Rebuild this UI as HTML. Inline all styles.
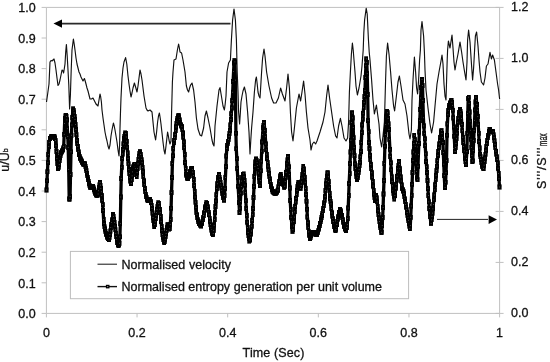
<!DOCTYPE html>
<html><head><meta charset="utf-8"><title>Normalised velocity and entropy generation</title>
<style>
html,body{margin:0;padding:0;background:#fff;}
svg{display:block;}
text{font-family:"Liberation Sans", Arial, sans-serif;font-size:12.5px;fill:#111;stroke:#111;stroke-width:0.3px;}
</style></head><body>
<svg width="550" height="362" viewBox="0 0 550 362">
<rect width="550" height="362" fill="#fff"/>
<g stroke="#c0c0c0" stroke-width="1" fill="none" shape-rendering="auto">
<path d="M46.4,7.4 H499.6 V313.4 H46.4 Z"/>
<path d="M41.6,7.40 H46.4"/><path d="M41.6,38.00 H46.4"/><path d="M41.6,68.60 H46.4"/><path d="M41.6,99.20 H46.4"/><path d="M41.6,129.80 H46.4"/><path d="M41.6,160.40 H46.4"/><path d="M41.6,191.00 H46.4"/><path d="M41.6,221.60 H46.4"/><path d="M41.6,252.20 H46.4"/><path d="M41.6,282.80 H46.4"/><path d="M41.6,313.40 H46.4"/><path d="M495.6,7.40 H503.6"/><path d="M495.6,58.40 H503.6"/><path d="M495.6,109.40 H503.6"/><path d="M495.6,160.40 H503.6"/><path d="M495.6,211.40 H503.6"/><path d="M495.6,262.40 H503.6"/><path d="M495.6,313.40 H503.6"/><path d="M46.40,313.4 V317.4"/><path d="M137.04,313.4 V317.4"/><path d="M227.68,313.4 V317.4"/><path d="M318.32,313.4 V317.4"/><path d="M408.96,313.4 V317.4"/><path d="M499.60,313.4 V317.4"/></g>
<text x="35.6" y="12.2" text-anchor="end">1.0</text><text x="35.6" y="42.8" text-anchor="end">0.9</text><text x="35.6" y="73.4" text-anchor="end">0.8</text><text x="35.6" y="104.0" text-anchor="end">0.7</text><text x="35.6" y="134.6" text-anchor="end">0.6</text><text x="35.6" y="165.2" text-anchor="end">0.5</text><text x="35.6" y="195.8" text-anchor="end">0.4</text><text x="35.6" y="226.4" text-anchor="end">0.3</text><text x="35.6" y="257.0" text-anchor="end">0.2</text><text x="35.6" y="287.6" text-anchor="end">0.1</text><text x="35.6" y="318.2" text-anchor="end">0.0</text><text x="511" y="11.4">1.2</text><text x="511" y="62.4">1.0</text><text x="511" y="113.4">0.8</text><text x="511" y="164.4">0.6</text><text x="511" y="215.4">0.4</text><text x="511" y="266.4">0.2</text><text x="511" y="317.4">0.0</text><text x="46.4" y="336.9" text-anchor="middle">0</text><text x="137.0" y="336.9" text-anchor="middle">0.2</text><text x="227.7" y="336.9" text-anchor="middle">0.4</text><text x="318.3" y="336.9" text-anchor="middle">0.6</text><text x="409.0" y="336.9" text-anchor="middle">0.8</text><text x="499.6" y="336.9" text-anchor="middle">1</text><text x="242.6" y="357.4" textLength="61.8" lengthAdjust="spacing">Time (Sec)</text>
<text transform="translate(9,160) rotate(-90)" text-anchor="middle">u/U<tspan font-size="7px" dy="-0.7">b</tspan></text>
<text transform="translate(545.5,189) rotate(-90)" textLength="41.4" lengthAdjust="spacing">S'''/S'''</text><text transform="translate(546.6,146.2) rotate(-90)" font-size="8.5px" textLength="12.8" lengthAdjust="spacingAndGlyphs">max</text>
<polyline points="46.5,102 47.5,95 49,84 50,62 51,60.5 52,61 53,60 54,59 55,63 56,70 57,78 58,85.5 59,84 60,80 61,75 62,70 63,71 63.6,73 64.4,68 65,64 65.7,52 66.4,44.5 67.2,56 68,70 68.8,85 69.6,109 70.4,95 71.2,70 72,50 73.4,39 74.2,44 75,50 76,58 77,64 78,68 79,72 80,74 81,77 82,79 83,81 84.4,78.5 85.2,81 86,84 87,88 88,91 89,95 90,99 91.5,99 93,98 94.5,101 96,104 98,106 99,100 100,94 100.7,97 101.4,102 102,110 103,118 104,125 105,132 106,137 107,141 108,146 109,149 110,145 111,136 112,130 113.4,123 114.2,126 115,130 116,136 117,142 118,150 119,156 119.6,145 120,128 120.5,112 121,98 121.5,88 122,78 123,68 124,62 125.6,57.6 126.8,64 128,76 129,84 130,91 131,97 132,93 133,88 134.4,83 135.6,87 137,92 138,86 139,78 140,70 141,74 142,80 143,88 144,96 145,102 146,108 147,110 148,111 150,110 152,112 153,122 154,132 155.6,140 156.6,132 157.6,122 158.5,116 159.4,113 160.2,118 161,124 162,133 163,142 164,150 165,154 166,146 167.6,132 168.4,136 169,140 170,144 171,141 171.6,112 172.4,82 173,72 174,60 176,59 177.4,50 178.6,44 179.4,48 180,52 181.6,53 183,60 184,66 185,72 186.4,86 187.5,90 188.6,92 189.6,88 190.6,85 192,83 193.6,90 195,102 196.4,118 198,129 200,135 201.6,136 203.6,128 205,116 206.4,111 208,118 210,128 212,140 213,144 214,146 214.6,136 215,126 216,116 217,106 218,98 219,90 220,87.6 221.4,96 223,106 224.4,110 225.2,104 226,96 227,72 228.6,63 230.4,60 231.4,40 232.6,20 234,9 235.4,20 236.4,40 237.2,72 238,92 238.6,112 239.6,124 240.4,112 241,102 242,96 243,91 244.4,87 246,94 247.6,112 249,132 250,154 250.8,140 251.6,128 253,112 254.4,92 255.6,80 256.4,77 257.2,84 258,92 259,96 260,98 261,82 261.6,72 262.6,58 264,49 265,56 266,66 266.6,72 269,86 271.6,98 273.6,103 276,103 278.4,98 280.6,88 282.4,94 285,101 286.6,88 288,74 289.4,88 290.4,112 291.6,132 293,141 294.4,128 296.4,108 299,94 300.6,101 302,92 303.6,81 305,94 306.4,112 308,128 310,140 311,150 312.4,144 314,142 315.6,144 317,141 320,132 323,122 325,112 326.6,96 328,85 329.6,98 331.6,112 333.6,126 335.6,136 337,138 338.6,126 340.4,118.4 342,126 344,138 346,141 347.6,138 348.6,122 349.4,92 350.4,72 351.4,54 352.4,43 353.2,50 354,60 355,72 356,86 357.4,95 359,88 361,76 362,66 363.2,50 363.8,33 364.6,20 366.2,8.4 367.2,14 367.6,22 368.4,39 369.2,52 370,60 371.6,80 373,100 374.4,114 376.4,105 377.6,114 379,124 380,138 381.6,147 383,136 384.4,122 385.6,80 386.4,56 387.6,43 389,54 390.6,72 392,90 393.6,106 394.6,111 396.4,96 398,82 399.4,76 401,86 403,100 405,104 407,116 409,134 410,139 411.4,130 412,100 413,80 414.4,57 415.6,72 416.6,88 417.6,94 418.6,80 419.6,60 420.4,50 421,30 422,21.6 423.6,36 424.4,52 425,70 426,90 428,108 430,124 431.6,133 433.6,122 435,106 437,84 439,72 441,61 442,55 443,64 444,84 445,96 446,100 446.6,80 447.2,60 447.6,50 448.4,41 450,48 452,35 453,48 454,62 455,70 456.4,62 458,54 460,42 461.6,52 463,62 464.6,72 466,80 467,62 467.6,40 468.6,30 470,42 471.6,66 472.6,80 473.6,68 474.6,50 475.4,36 476.6,32 478,46 479,60 480,72 481.4,82 483.6,85 485,78 486.4,66 488,64 490,52.4 491.4,59 492.6,55 494.4,60 496,72 497.6,84 498.6,90 499.6,99" fill="none" stroke="#111" stroke-width="1.15" stroke-linejoin="round"/>
<defs><marker id="sq" markerUnits="userSpaceOnUse" markerWidth="4.2" markerHeight="5.2" refX="2.1" refY="2.6" orient="0"><rect width="4.2" height="5.2" fill="#000"/><rect x="1.75" y="2.25" width="0.7" height="0.7" fill="#888"/></marker></defs>
<polyline points="46.5,190.0 47.0,180.9 47.4,171.9 47.9,162.8 48.3,154.5 48.8,146.6 49.2,142.3 49.7,138.9 50.1,138.3 50.6,137.6 51.0,137.0 51.5,136.8 51.9,136.5 52.4,136.3 52.8,136.1 53.3,136.1 53.7,136.2 54.2,136.4 54.7,137.0 55.1,138.6 55.6,140.7 56.0,145.8 56.5,151.6 56.9,158.7 57.4,163.7 57.8,168.3 58.3,168.9 58.7,167.1 59.2,164.5 59.6,160.9 60.1,157.5 60.5,155.3 61.0,153.0 61.4,152.1 61.9,151.2 62.4,150.3 62.8,149.4 63.3,148.0 63.7,146.3 64.2,134.3 64.6,123.6 65.1,118.5 65.5,115.9 66.0,115.5 66.4,116.5 66.9,119.9 67.3,128.8 67.8,136.5 68.2,147.3 68.7,169.4 69.2,199.0 69.6,199.0 70.1,196.3 70.5,174.4 71.0,151.9 71.4,135.2 71.9,125.0 72.3,117.5 72.8,111.2 73.2,108.9 73.7,110.7 74.1,112.9 74.6,116.1 75.0,119.4 75.5,124.4 75.9,129.4 76.4,134.8 76.9,140.2 77.3,143.8 77.8,146.5 78.2,149.3 78.7,152.0 79.1,154.5 79.6,156.3 80.0,158.0 80.5,158.9 80.9,159.9 81.4,160.8 81.8,161.7 82.3,162.6 82.7,163.5 83.2,164.0 83.6,164.0 84.1,164.0 84.6,164.0 85.0,164.0 85.5,166.3 85.9,168.6 86.4,170.8 86.8,173.1 87.3,175.3 87.7,177.4 88.2,179.5 88.6,181.5 89.1,183.3 89.5,185.1 90.0,187.0 90.4,187.0 90.9,187.0 91.3,187.0 91.8,186.8 92.3,186.5 92.7,186.2 93.2,186.5 93.6,188.0 94.1,189.5 94.5,191.0 95.0,192.3 95.4,193.5 95.9,194.7 96.3,195.0 96.8,195.0 97.2,195.0 97.7,195.0 98.1,194.0 98.6,190.8 99.0,187.7 99.5,185.0 100.0,182.3 100.4,185.1 100.9,188.5 101.3,191.8 101.8,195.7 102.2,200.2 102.7,204.7 103.1,210.5 103.6,219.6 104.0,223.4 104.5,226.9 104.9,229.0 105.4,231.2 105.8,233.3 106.3,234.8 106.7,236.0 107.2,237.2 107.7,238.2 108.1,238.8 108.6,239.4 109.0,239.9 109.5,237.2 109.9,234.5 110.4,231.0 110.8,227.4 111.3,224.6 111.7,222.3 112.2,219.9 112.6,217.3 113.1,214.6 113.5,216.3 114.0,219.3 114.5,222.4 114.9,226.1 115.4,229.8 115.8,233.3 116.3,236.6 116.7,239.9 117.2,242.4 117.6,243.6 118.1,244.7 118.5,245.8 119.0,244.7 119.4,243.2 119.9,236.9 120.3,223.7 120.8,197.0 121.2,178.6 121.7,167.2 122.2,158.5 122.6,154.0 123.1,149.3 123.5,143.9 124.0,138.4 124.4,136.4 124.9,134.7 125.3,133.0 125.8,133.4 126.2,137.0 126.7,141.1 127.1,147.1 127.6,153.0 128.0,158.5 128.5,163.9 128.9,169.4 129.4,173.6 129.9,177.7 130.3,181.0 130.8,183.9 131.2,183.7 131.7,179.9 132.1,175.9 132.6,171.9 133.0,167.9 133.5,166.6 133.9,165.3 134.4,164.1 134.8,166.4 135.3,168.8 135.7,171.5 136.2,174.4 136.6,176.6 137.1,172.6 137.6,168.5 138.0,163.9 138.5,159.6 138.9,156.2 139.4,153.4 139.8,151.7 140.3,152.4 140.7,154.6 141.2,157.1 141.6,159.8 142.1,162.8 142.5,167.4 143.0,171.9 143.4,176.4 143.9,180.9 144.3,184.8 144.8,188.4 145.3,191.5 145.7,194.2 146.2,196.5 146.6,197.8 147.1,199.1 147.5,200.0 148.0,200.9 148.4,200.6 148.9,200.1 149.3,199.7 149.8,199.2 150.2,199.7 150.7,201.1 151.1,202.9 151.6,205.6 152.0,208.5 152.5,213.0 153.0,217.5 153.4,220.6 153.9,223.5 154.3,226.4 154.8,224.7 155.2,221.8 155.7,218.7 156.1,215.4 156.6,212.2 157.0,209.4 157.5,206.7 157.9,204.6 158.4,202.8 158.8,203.5 159.3,206.2 159.8,209.2 160.2,212.8 160.7,216.6 161.1,221.7 161.6,226.6 162.0,230.6 162.5,234.4 162.9,237.1 163.4,239.8 163.8,241.3 164.3,242.6 164.7,241.3 165.2,239.1 165.6,236.3 166.1,233.4 166.5,230.6 167.0,227.8 167.5,224.9 167.9,224.9 168.4,226.3 168.8,227.6 169.3,229.0 169.7,228.8 170.2,224.3 170.6,219.4 171.1,208.1 171.5,192.7 172.0,177.6 172.4,163.4 172.9,155.9 173.3,148.3 173.8,142.9 174.2,140.3 174.7,137.7 175.2,134.7 175.6,130.8 176.1,126.9 176.5,123.4 177.0,120.9 177.4,118.5 177.9,117.0 178.3,115.8 178.8,115.8 179.2,117.8 179.7,120.0 180.1,122.5 180.6,124.4 181.0,125.2 181.5,126.1 181.9,126.9 182.4,129.8 182.9,133.0 183.3,137.1 183.8,142.0 184.2,147.7 184.7,154.6 185.1,162.6 185.6,168.6 186.0,174.1 186.5,175.9 186.9,177.7 187.4,178.4 187.8,178.8 188.3,178.1 188.7,176.8 189.2,175.2 189.6,173.4 190.1,171.7 190.6,170.3 191.0,169.0 191.5,168.5 191.9,168.1 192.4,169.8 192.8,172.1 193.3,175.5 193.7,179.6 194.2,185.4 194.6,191.3 195.1,197.0 195.5,202.1 196.0,207.3 196.4,212.3 196.9,214.9 197.3,217.5 197.8,219.8 198.3,221.6 198.7,223.1 199.2,223.7 199.6,224.3 200.1,224.8 200.5,225.4 201.0,226.0 201.4,224.7 201.9,223.3 202.3,221.9 202.8,219.8 203.2,217.7 203.7,215.5 204.1,212.9 204.6,210.3 205.1,207.8 205.5,206.1 206.0,204.4 206.4,202.7 206.9,203.1 207.3,205.0 207.8,206.9 208.2,209.5 208.7,212.1 209.1,214.9 209.6,218.1 210.0,221.2 210.5,224.4 210.9,227.6 211.4,230.0 211.8,232.2 212.3,233.6 212.8,234.5 213.2,233.5 213.7,230.3 214.1,225.3 214.6,219.6 215.0,212.8 215.5,206.6 215.9,201.0 216.4,194.8 216.8,188.4 217.3,183.8 217.7,180.1 218.2,177.3 218.6,175.4 219.1,174.5 219.5,177.1 220.0,179.7 220.5,182.3 220.9,185.2 221.4,188.0 221.8,190.8 222.3,193.3 222.7,195.6 223.2,197.7 223.6,199.5 224.1,200.2 224.5,195.7 225.0,188.3 225.4,177.6 225.9,166.7 226.3,156.0 226.8,148.6 227.2,145.4 227.7,143.3 228.2,141.4 228.6,139.3 229.1,136.3 229.5,133.3 230.0,130.2 230.4,125.0 230.9,119.5 231.3,113.8 231.8,107.9 232.2,100.7 232.7,92.2 233.1,81.6 233.6,71.5 234.0,63.0 234.5,60.7 234.9,61.9 235.4,80.1 235.9,133.1 236.3,148.9 236.8,158.8 237.2,168.3 237.7,177.3 238.1,186.1 238.6,194.3 239.0,202.6 239.5,212.5 239.9,208.1 240.4,201.5 240.8,193.1 241.3,186.5 241.7,181.1 242.2,177.3 242.6,175.7 243.1,174.1 243.6,174.0 244.0,176.8 244.5,180.6 244.9,185.1 245.4,192.6 245.8,200.8 246.3,208.4 246.7,215.6 247.2,222.1 247.6,227.6 248.1,232.5 248.5,235.4 249.0,238.2 249.4,241.0 249.9,240.0 250.3,237.0 250.8,234.0 251.3,231.0 251.7,226.1 252.2,220.5 252.6,214.8 253.1,208.4 253.5,197.5 254.0,186.6 254.4,176.6 254.9,166.6 255.3,162.0 255.8,159.3 256.2,159.0 256.7,160.8 257.1,162.9 257.6,165.6 258.1,168.5 258.5,173.0 259.0,177.6 259.4,181.7 259.9,185.8 260.3,180.4 260.8,170.9 261.2,161.1 261.7,151.1 262.1,142.0 262.6,134.7 263.0,127.8 263.5,125.1 263.9,122.4 264.4,125.9 264.8,130.5 265.3,136.8 265.8,144.0 266.2,149.9 266.7,154.1 267.1,158.4 267.6,162.5 268.0,166.1 268.5,169.8 268.9,173.4 269.4,176.3 269.8,179.0 270.3,181.7 270.7,184.4 271.2,186.6 271.6,188.1 272.1,189.6 272.5,191.1 273.0,191.7 273.5,192.3 273.9,192.9 274.4,193.0 274.8,193.0 275.3,193.0 275.7,193.0 276.2,193.0 276.6,192.8 277.1,191.8 277.5,190.9 278.0,190.0 278.4,186.9 278.9,183.8 279.3,181.1 279.8,178.5 280.2,176.0 280.7,174.4 281.2,176.5 281.6,178.5 282.1,180.5 282.5,182.3 283.0,183.5 283.4,184.8 283.9,186.0 284.3,187.3 284.8,186.2 285.2,181.7 285.7,177.2 286.1,172.6 286.6,168.1 287.0,163.7 287.5,160.0 287.9,156.4 288.4,161.0 288.9,166.9 289.3,174.5 289.8,188.0 290.2,200.3 290.7,209.3 291.1,217.2 291.6,221.9 292.0,226.6 292.5,231.3 292.9,229.7 293.4,226.0 293.8,221.6 294.3,217.1 294.7,211.9 295.2,206.4 295.6,202.0 296.1,198.4 296.6,194.6 297.0,190.5 297.5,186.7 297.9,184.4 298.4,182.2 298.8,183.1 299.3,184.4 299.7,185.7 300.2,187.2 300.6,188.3 301.1,185.4 301.5,182.0 302.0,178.1 302.4,174.2 302.9,170.3 303.4,166.4 303.8,169.0 304.3,172.6 304.7,177.1 305.2,182.2 305.6,188.4 306.1,194.5 306.5,201.1 307.0,209.1 307.4,217.0 307.9,222.8 308.3,227.3 308.8,231.9 309.2,235.2 309.7,237.5 310.1,238.6 310.6,237.2 311.1,235.8 311.5,234.5 312.0,233.1 312.4,232.8 312.9,232.6 313.3,232.3 313.8,232.1 314.2,232.3 314.7,232.8 315.1,233.3 315.6,233.8 316.0,234.3 316.5,234.9 316.9,234.3 317.4,233.3 317.8,232.3 318.3,230.8 318.8,229.0 319.2,227.2 319.7,225.4 320.1,223.6 320.6,221.7 321.0,219.9 321.5,217.6 321.9,215.4 322.4,213.1 322.8,210.9 323.3,208.3 323.7,205.6 324.2,202.9 324.6,200.1 325.1,196.7 325.5,190.3 326.0,184.0 326.5,180.3 326.9,176.6 327.4,173.0 327.8,172.9 328.3,176.8 328.7,181.7 329.2,187.2 329.6,193.1 330.1,198.5 330.5,201.2 331.0,203.9 331.4,208.4 331.9,212.9 332.3,216.1 332.8,218.8 333.2,221.5 333.7,224.2 334.2,226.5 334.6,227.9 335.1,229.3 335.5,230.7 336.0,229.2 336.4,226.9 336.9,224.4 337.3,221.6 337.8,219.1 338.2,216.8 338.7,214.6 339.1,212.6 339.6,210.7 340.0,209.1 340.5,210.5 340.9,211.8 341.4,213.6 341.9,215.4 342.3,217.5 342.8,219.8 343.2,222.1 343.7,224.3 344.1,226.3 344.6,227.4 345.0,228.6 345.5,229.7 345.9,230.8 346.4,229.5 346.8,227.6 347.3,224.6 347.7,218.6 348.2,208.0 348.7,195.6 349.1,183.7 349.6,173.7 350.0,163.7 350.5,152.0 350.9,140.2 351.4,122.6 351.8,113.0 352.3,113.0 352.7,117.9 353.2,127.6 353.6,137.8 354.1,147.6 354.5,155.7 355.0,163.9 355.4,168.5 355.9,173.0 356.4,176.5 356.8,179.6 357.3,179.7 357.7,177.4 358.2,175.0 358.6,172.3 359.1,169.4 359.5,165.8 360.0,162.2 360.4,156.9 360.9,151.4 361.3,142.6 361.8,132.7 362.2,124.9 362.7,119.0 363.1,113.2 363.6,107.8 364.1,102.3 364.5,96.4 365.0,90.5 365.4,77.6 365.9,65.8 366.3,58.9 366.8,62.3 367.2,73.7 367.7,94.6 368.1,120.7 368.6,131.8 369.0,142.5 369.5,148.8 369.9,155.2 370.4,159.9 370.8,164.5 371.3,168.7 371.8,172.8 372.2,177.1 372.7,181.6 373.1,186.0 373.6,190.1 374.0,194.1 374.5,197.3 374.9,200.5 375.4,199.4 375.8,197.4 376.3,195.5 376.7,197.9 377.2,201.9 377.6,206.4 378.1,210.8 378.5,214.4 379.0,218.0 379.5,221.6 379.9,225.3 380.4,227.8 380.8,230.1 381.3,232.3 381.7,232.2 382.2,225.4 382.6,217.5 383.1,207.6 383.5,194.0 384.0,180.4 384.4,163.4 384.9,146.1 385.3,134.4 385.8,124.5 386.2,117.0 386.7,111.5 387.2,111.5 387.6,112.8 388.1,118.3 388.5,123.9 389.0,129.6 389.4,139.3 389.9,149.2 390.3,156.6 390.8,162.9 391.2,169.9 391.7,176.9 392.1,181.4 392.6,185.9 393.0,190.3 393.5,193.2 394.0,196.1 394.4,199.0 394.9,195.6 395.3,192.0 395.8,188.1 396.2,184.1 396.7,180.1 397.1,176.2 397.6,172.2 398.0,168.6 398.5,165.1 398.9,161.5 399.4,164.6 399.8,168.8 400.3,173.0 400.7,177.0 401.2,181.0 401.7,185.0 402.1,188.3 402.6,189.4 403.0,190.5 403.5,191.7 403.9,193.8 404.4,196.4 404.8,199.0 405.3,201.7 405.7,204.4 406.2,207.1 406.6,209.8 407.1,212.5 407.5,215.2 408.0,218.0 408.4,220.7 408.9,223.4 409.4,226.1 409.8,228.8 410.3,225.7 410.7,217.2 411.2,206.0 411.6,195.2 412.1,184.2 412.5,172.4 413.0,160.6 413.4,152.0 413.9,143.6 414.3,135.2 414.8,139.7 415.2,146.2 415.7,153.9 416.1,163.0 416.6,171.5 417.1,178.0 417.5,179.8 418.0,166.2 418.4,154.7 418.9,143.4 419.3,132.0 419.8,120.7 420.2,109.4 420.7,98.0 421.1,87.7 421.6,79.8 422.0,79.5 422.5,85.4 422.9,100.5 423.4,117.8 423.8,125.9 424.3,133.3 424.8,138.9 425.2,145.7 425.7,153.9 426.1,161.4 426.6,166.8 427.0,172.4 427.5,180.5 427.9,188.7 428.4,195.4 428.8,201.9 429.3,208.4 429.7,213.0 430.2,216.9 430.6,220.9 431.1,223.3 431.6,219.9 432.0,216.5 432.5,213.1 432.9,208.9 433.4,204.4 433.8,199.9 434.3,195.0 434.7,189.9 435.2,184.8 435.6,179.7 436.1,175.2 436.5,170.7 437.0,166.1 437.4,160.7 437.9,155.3 438.3,151.2 438.8,147.6 439.3,144.0 439.7,140.4 440.2,137.1 440.6,134.5 441.1,131.9 441.5,130.7 442.0,133.6 442.4,137.5 442.9,142.6 443.3,152.4 443.8,164.1 444.2,175.7 444.7,184.3 445.1,187.4 445.6,182.1 446.0,172.8 446.5,160.7 447.0,135.1 447.4,123.9 447.9,114.8 448.3,110.1 448.8,107.4 449.2,105.4 449.7,104.2 450.1,103.0 450.6,101.9 451.0,101.0 451.5,100.2 451.9,102.2 452.4,105.3 452.8,110.1 453.3,117.9 453.7,126.9 454.2,136.1 454.7,145.4 455.1,151.6 455.6,147.6 456.0,143.6 456.5,138.8 456.9,133.2 457.4,127.7 457.8,122.2 458.3,118.1 458.7,114.9 459.2,112.3 459.6,110.5 460.1,109.4 460.5,111.7 461.0,114.0 461.4,118.5 461.9,124.3 462.4,130.8 462.8,137.2 463.3,142.4 463.7,146.7 464.2,150.9 464.6,154.9 465.1,158.2 465.5,161.5 466.0,164.8 466.4,158.5 466.9,151.7 467.3,133.2 467.8,113.6 468.2,98.3 468.7,97.1 469.1,103.3 469.6,112.0 470.1,121.1 470.5,130.2 471.0,139.2 471.4,147.5 471.9,155.6 472.3,161.7 472.8,161.0 473.2,150.6 473.7,140.3 474.1,130.3 474.6,120.3 475.0,110.0 475.5,102.0 475.9,97.1 476.4,100.3 476.9,104.6 477.3,110.2 477.8,116.6 478.2,124.2 478.7,133.2 479.1,141.6 479.6,148.0 480.0,154.1 480.5,156.8 480.9,159.6 481.4,162.3 481.8,165.0 482.3,166.5 482.7,167.4 483.2,168.2 483.6,168.6 484.1,165.1 484.6,161.5 485.0,158.0 485.5,154.1 485.9,150.2 486.4,146.3 486.8,143.4 487.3,140.6 487.7,137.7 488.2,135.2 488.6,133.3 489.1,131.3 489.5,129.3 490.0,129.6 490.4,130.4 490.9,131.2 491.3,131.9 491.8,131.8 492.3,131.5 492.7,131.2 493.2,132.0 493.6,134.9 494.1,137.8 494.5,140.9 495.0,144.3 495.4,147.7 495.9,151.1 496.3,154.1 496.8,156.9 497.2,159.7 497.7,163.0 498.1,168.2 498.6,173.4 499.0,178.8 499.5,187.0" fill="none" stroke="#000" stroke-width="3.3" stroke-linejoin="round" marker-start="url(#sq)" marker-mid="url(#sq)" marker-end="url(#sq)"/>
<path d="M61,23.55 H230.5" stroke="#2a2a2a" stroke-width="1.8" fill="none"/><path d="M53.5,23.55 L62,19.4 V27.7 Z" fill="#000"/>
<path d="M437,219.4 H488" stroke="#222" stroke-width="1" fill="none"/><path d="M497,219.6 L488.6,215.3 V223.9 Z" fill="#000"/>
<rect x="70.4" y="251.4" width="338.2" height="47.3" fill="#fff" stroke="#bdbdbd" stroke-width="1"/>
<path d="M97.5,264.2 H117" stroke="#111" stroke-width="1"/><path d="M97.5,286.6 H117" stroke="#111" stroke-width="1.4"/><rect x="105.9" y="284.8" width="3.6" height="3.6" fill="#000"/><rect x="107.2" y="286.1" width="1" height="1" fill="#aaa"/><text x="121.5" y="268.8" textLength="109.5" lengthAdjust="spacing">Normalised velocity</text><text x="121.5" y="291.2" textLength="260.5" lengthAdjust="spacing">Normalised entropy generation per unit volume</text>
</svg></body></html>
